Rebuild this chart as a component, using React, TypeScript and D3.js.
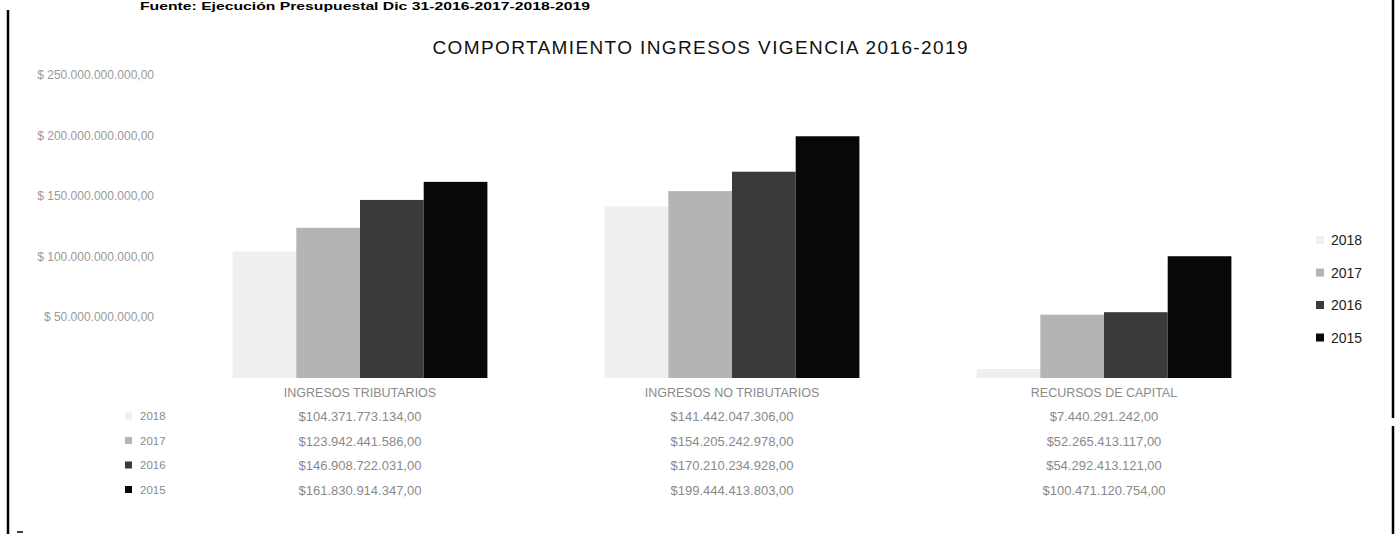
import * as d3 from "d3";
import { useEffect, useRef } from "react";

const categories = ["INGRESOS TRIBUTARIOS", "INGRESOS NO TRIBUTARIOS", "RECURSOS DE CAPITAL"];
const years = ["2018", "2017", "2016", "2015"];
const values2018 = [104371773134, 141442047306, 7440291242];
const values2017 = [123942441586, 154205242978, 52265413117];
const values2016 = [146908722031, 170210234928, 54292413121];
const values2015 = [161830914347, 199444413803, 100471120754];
const yTicks = [50e9, 100e9, 150e9, 200e9, 250e9];
const colors = ["#efefef", "#b4b4b4", "#3a3a3a", "#080808"];

const W = 1397,
  H = 534;

const App = () => {
  const ref = useRef<SVGSVGElement | null>(null);

  useEffect(() => {
    if (!ref.current) return;
    const svg = d3.select(ref.current);
    svg.selectAll("*").remove();

    const series = [values2018, values2017, values2016, values2015];
    const locale = d3.formatLocale({
      decimal: ",",
      thousands: ".",
      grouping: [3],
      currency: ["$", ""],
    });
    const money = locale.format("$,.2f");
    const font = "'Liberation Sans', Arial, sans-serif";

    // frame of the scanned page
    svg.append("line").attr("x1", 8).attr("x2", 8).attr("y1", 10).attr("y2", H)
      .attr("stroke", "#000").attr("stroke-width", 2.5);
    svg.append("line").attr("x1", 1393).attr("x2", 1393).attr("y1", 0).attr("y2", 418)
      .attr("stroke", "#000").attr("stroke-width", 2.5);
    svg.append("line").attr("x1", 1393).attr("x2", 1393).attr("y1", 426).attr("y2", H)
      .attr("stroke", "#000").attr("stroke-width", 2.5);
    svg.append("line").attr("x1", 17).attr("x2", 23).attr("y1", 532).attr("y2", 532)
      .attr("stroke", "#000").attr("stroke-width", 1.5);

    // source line at top
    svg.append("text").attr("x", 140).attr("y", 10)
      .attr("font-family", font).attr("font-weight", "bold").attr("font-size", 11)
      .attr("textLength", 450).attr("lengthAdjust", "spacingAndGlyphs")
      .text("Fuente: Ejecución Presupuestal Dic 31-2016-2017-2018-2019");

    svg.append("text").attr("x", 700).attr("y", 54).attr("text-anchor", "middle")
      .attr("font-family", font).attr("font-size", 19).attr("fill", "#111")
      .attr("textLength", 535).attr("lengthAdjust", "spacing")
      .text("COMPORTAMIENTO INGRESOS VIGENCIA 2016-2019");

    const x0 = d3.scaleBand<string>().domain(categories).range([174, 1290])
      .paddingInner(0.315).paddingOuter(0.1575);
    const x1 = d3.scaleBand<string>().domain(years).range([0, x0.bandwidth()]);
    const y = d3.scaleLinear().domain([0, 250e9]).range([378, 75]);

    // y axis labels
    svg.append("g").selectAll("text").data(yTicks).enter().append("text")
      .attr("x", 154).attr("y", (d) => y(d) + 4).attr("text-anchor", "end")
      .attr("font-family", font).attr("font-size", 12).attr("fill", "#9a9a9a")
      .text((d) => money(d).replace("$", "$ "));

    // bars
    categories.forEach((c, ci) => {
      const g = svg.append("g").attr("transform", `translate(${x0(c)},0)`);
      years.forEach((yr, si) => {
        const v = series[si][ci];
        g.append("rect").attr("x", x1(yr) as number).attr("y", y(v))
          .attr("width", x1.bandwidth()).attr("height", y(0) - y(v))
          .attr("fill", colors[si]);
      });
      const cx = (x0(c) as number) + x0.bandwidth() / 2;
      svg.append("text").attr("x", cx).attr("y", 397).attr("text-anchor", "middle")
        .attr("font-family", font).attr("font-size", 12.5).attr("fill", "#8a8a8a")
        .text(c);
      years.forEach((yr, si) => {
        svg.append("text").attr("x", cx).attr("y", 421 + si * 24.5).attr("text-anchor", "middle")
          .attr("font-family", font).attr("font-size", 13).attr("fill", "#8a8a8a")
          .text(money(series[si][ci]));
      });
    });

    // data table row labels
    years.forEach((yr, si) => {
      const ry = 416 + si * 24.5;
      svg.append("rect").attr("x", 125).attr("y", ry - 3.5).attr("width", 7).attr("height", 7)
        .attr("fill", colors[si]);
      svg.append("text").attr("x", 140).attr("y", ry + 4)
        .attr("font-family", font).attr("font-size", 11.5).attr("fill", "#8a8a8a").text(yr);
    });

    // legend
    years.forEach((yr, si) => {
      const ly = 240 + si * 32.5;
      svg.append("rect").attr("x", 1316).attr("y", ly - 4).attr("width", 8).attr("height", 8)
        .attr("fill", colors[si]);
      svg.append("text").attr("x", 1331).attr("y", ly + 5)
        .attr("font-family", font).attr("font-size", 14).attr("fill", "#222").text(yr);
    });
  }, []);

  return (
    <svg
      ref={ref}
      width={W}
      height={H}
      style={{ position: "absolute", left: 0, top: 0, background: "#fff" }}
    />
  );
};

export default App;
